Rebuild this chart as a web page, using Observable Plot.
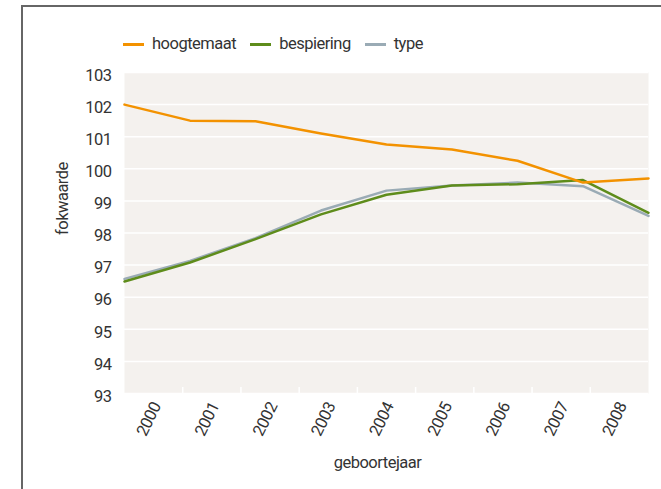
<!DOCTYPE html>
<html><head><meta charset="utf-8">
<script src="https://cdn.jsdelivr.net/npm/d3@7"></script>
<script src="https://cdn.jsdelivr.net/npm/@observablehq/plot@0.6"></script>
<style>
body{margin:0;background:#fff;font-family:Roboto,"Liberation Sans",sans-serif;}
#wrap{position:relative;width:661px;height:489px;overflow:hidden;}
#frame{position:absolute;left:21px;top:5px;right:-10px;bottom:-10px;border-left:2px solid #666;border-top:2px solid #666;pointer-events:none;}
#legend{height:60px;box-sizing:border-box;padding-left:123px;padding-top:28px;display:flex;align-items:center;}
.item{display:flex;align-items:center;font-size:16.5px;letter-spacing:-0.5px;color:#333;margin-right:14px;line-height:20px;}
.sw{width:21px;height:3px;margin-right:8px;}
svg{display:block}
svg text{letter-spacing:-0.5px;}
</style></head>
<body>
<div id="wrap">
  <div id="legend"></div>
  <div id="chart"></div>
  <div id="frame"></div>
</div>
<script>
const years = [2000, 2001, 2002, 2003, 2004, 2005, 2006, 2007, 2008];
const hoogtemaat = [102.0, 101.5, 101.48, 101.1, 100.76, 100.6, 100.25, 99.57, 99.7];
const bespiering = [96.49, 97.08, 97.81, 98.58, 99.19, 99.48, 99.52, 99.65, 98.63];
const typeVals   = [96.57, 97.13, 97.84, 98.7, 99.32, 99.48, 99.57, 99.46, 98.53];
const seriesNames = ["hoogtemaat", "bespiering", "type"];
const seriesColors = ["#f39200", "#5e8c1b", "#9aabb5"];
const yTicks = [93, 94, 95, 96, 97, 98, 99, 100, 101, 102, 103];
const xLabel = "geboortejaar";
const yLabel = "fokwaarde";

const valuesByName = {hoogtemaat, bespiering, type: typeVals};
const n = years.length;

// legend
const legend = document.getElementById("legend");
seriesNames.forEach((name, k) => {
  const it = document.createElement("div");
  it.className = "item";
  const sw = document.createElement("span");
  sw.className = "sw";
  sw.style.background = seriesColors[k];
  it.appendChild(sw);
  it.appendChild(document.createTextNode(name));
  legend.appendChild(it);
});

// draw order: type, bespiering, hoogtemaat (orange on top)
const drawOrder = ["type", "bespiering", "hoogtemaat"];
const rows = drawOrder.flatMap(name => valuesByName[name].map((v, i) => ({series: name, i, v})));

const chart = Plot.plot({
  width: 661,
  height: 429,
  marginTop: 12,
  marginBottom: 96,
  marginLeft: 124,
  marginRight: 13,
  style: {fontFamily: 'Roboto,"Liberation Sans",sans-serif', fontSize: "16px", color: "#333", background: "transparent", overflow: "visible"},
  x: {domain: [0, n], label: null},
  y: {domain: [yTicks[0], yTicks[yTicks.length - 1]], label: null},
  color: {domain: seriesNames, range: seriesColors},
  marks: [
    Plot.frame({fill: "#f4f1ee", stroke: "none"}),
    Plot.gridY(yTicks, {stroke: "white", strokeOpacity: 1, strokeWidth: 1.5}),
    Plot.axisY(yTicks, {tickSize: 0, tickPadding: 13, dy: 3, fontSize: 16.5, label: null}),
    Plot.axisX(d3.range(1, n), {tickSize: -6, stroke: "white", strokeOpacity: 1, strokeWidth: 1.5, tickFormat: () => "", label: null}),
    Plot.line(rows, {x: d => d.i * n / (n - 1), y: "v", z: "series", stroke: "series", strokeWidth: 2.5}),
    Plot.text(years, {x: (d, i) => i + 0.5, frameAnchor: "bottom", dy: 28, rotate: -64, text: d => String(d), fontSize: 16.5, fill: "#333"}),
    Plot.text([xLabel], {frameAnchor: "bottom", dy: 74, dx: -9, fontSize: 16.5, fill: "#333"}),
    Plot.text([yLabel], {frameAnchor: "left", dx: -62, dy: 2, rotate: -90, fontSize: 16.5, fill: "#333"})
  ]
});
document.getElementById("chart").appendChild(chart);
</script>
</body></html>
